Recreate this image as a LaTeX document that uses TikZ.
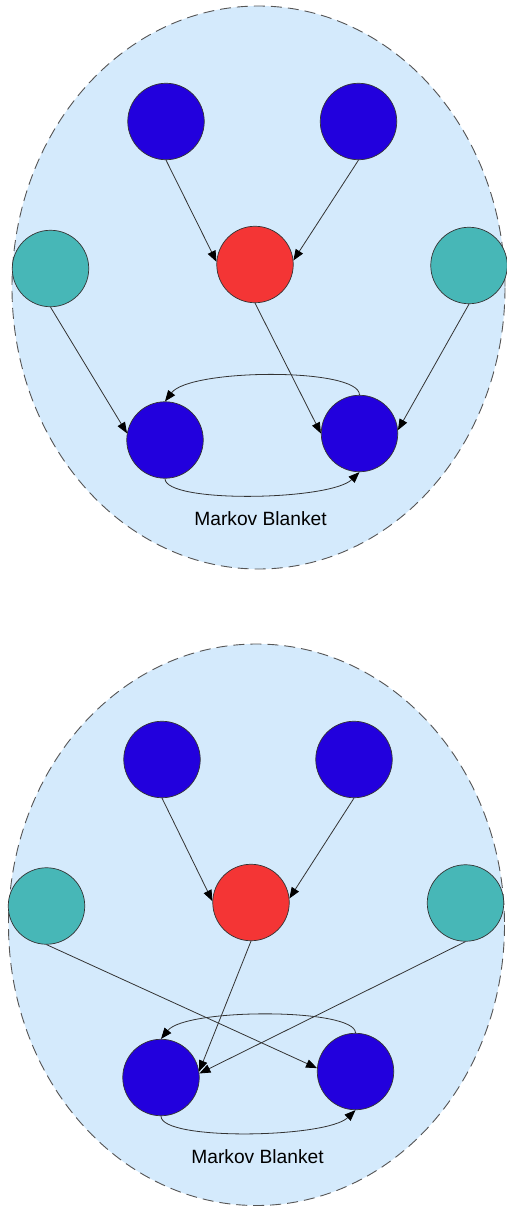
\documentclass[tikz,border=0pt]{standalone}
\usepackage{fontspec}
\setmainfont{Liberation Sans}
\usetikzlibrary{arrows.meta}

\definecolor{blanketfill}{HTML}{D4EAFC}
\definecolor{blanketline}{HTML}{555555}
\definecolor{nodeblue}{HTML}{2200DD}
\definecolor{nodered}{HTML}{F43535}
\definecolor{nodeteal}{HTML}{47B7B7}
\definecolor{edgegray}{HTML}{333333}

\tikzset{
  blanket/.style={fill=blanketfill, draw=blanketline, line width=0.9pt,
    dash pattern=on 11pt off 6pt},
  var/.style={circle, draw=edgegray, line width=0.7pt, minimum size=76.5pt,
    inner sep=0pt},
  bluevar/.style={var, fill=nodeblue},
  redvar/.style={var, fill=nodered},
  tealvar/.style={var, fill=nodeteal},
  edge/.style={draw=edgegray, line width=0.8pt,
    -{Triangle[length=11pt,width=8.5pt,color=black]}},
  caption/.style={font=\fontsize{19.2}{23}\selectfont, anchor=base, inner sep=0pt}
}

\begin{document}
\begin{tikzpicture}[x=1pt, y=-1pt]
\useasboundingbox (0,0) rectangle (506,1207);

% ---------- first network ----------
\draw[blanket] (258.5,287.5) ellipse [x radius=246.5, y radius=281.5];

\node[bluevar] (aP1) at (166,121.5) {};
\node[bluevar] (aP2) at (358.5,121.5) {};
\node[redvar]  (aX)  at (255,264.5) {};
\node[tealvar] (aS1) at (50.5,268.5) {};
\node[tealvar] (aS2) at (469,265.5) {};
\node[bluevar] (aC1) at (165,440) {};
\node[bluevar] (aC2) at (359.5,433.5) {};

\draw[edge] (aP1.south) -- (aX.176);
\draw[edge] (aP2.south) -- (aX.6);
\draw[edge] (aS1.south) -- (aC1.170);
\draw[edge] (aX.south) -- (aC2.west);
\draw[edge] (aS2.south) -- (aC2.5);
\draw[edge] (aC2.north) .. controls +(0,-27.5) and +(25,-33) .. (aC1.north);
\draw[edge] (aC1.south) .. controls +(0,25) and +(-29.5,28.5) .. (aC2.south);

\node[caption] (aLabel) at (260.5,525) {Markov Blanket};

% ---------- second network ----------
\draw[blanket] (256.5,924.75) ellipse [x radius=248, y radius=280.75];

\node[bluevar] (bP1) at (162,759.5) {};
\node[bluevar] (bP2) at (354,759.5) {};
\node[redvar]  (bX)  at (251,902.5) {};
\node[tealvar] (bS1) at (46.5,906) {};
\node[tealvar] (bS2) at (465.5,903) {};
\node[bluevar] (bC1) at (161,1077.5) {};
\node[bluevar] (bC2) at (355.5,1071.5) {};

\draw[edge] (bP1.south) -- (bX.178);
\draw[edge] (bP2.south) -- (bX.6);
\draw[edge] (bS1.south) -- (bC2.175);
\draw[edge] (bX.south) -- (bC1.9);
\draw[edge] (bS2.south) -- (bC1.6);
\draw[edge] (bC2.north) .. controls +(0,-25) and +(25,-31) .. (bC1.north);
\draw[edge] (bC1.south) .. controls +(0,25) and +(-29,28) .. (bC2.south);

\node[caption] (bLabel) at (257.5,1163) {Markov Blanket};
\end{tikzpicture}
\end{document}
